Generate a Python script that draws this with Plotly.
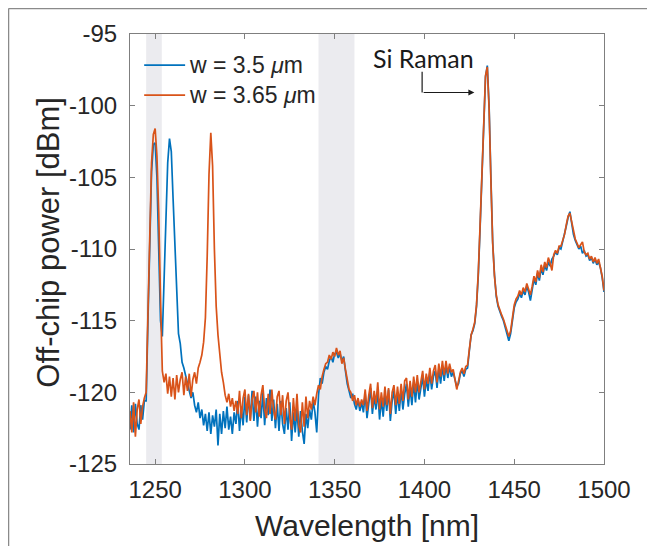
import plotly.graph_objects as go

# wavelength grid: 1 nm steps from 1236 nm to 1500 nm
WL_START = 1236
WL_STEP = 1

# off-chip power [dBm], w = 3.5 um
power_w350 = [
    -122.6, -120.9, -122.8, -120.8, -122.2, -122.6, -120.9, -121.9, -120.6, -120.6,
    -115.0, -109.0, -104.6, -102.7, -102.6, -105.0, -110.0, -115.0, -116.1, -112.5,
    -108.0, -104.0, -102.3, -103.2, -106.5, -110.0, -113.8, -115.9, -116.6, -117.9,
    -118.3, -118.9, -119.5, -119.9, -120.4, -120.0, -120.9, -121.4, -120.7, -121.8,
    -121.2, -122.3, -121.5, -122.7, -121.4, -122.9, -121.6, -122.4, -121.2, -123.7,
    -121.5, -122.9, -121.3, -122.5, -121.0, -122.6, -121.7, -122.9, -121.4, -122.2,
    -120.6, -122.7, -121.0, -122.3, -120.3, -122.1, -120.2, -121.9, -119.9, -122.0,
    -120.3, -122.4, -120.6, -121.8, -120.0, -122.3, -120.4, -121.6, -119.8, -122.0,
    -120.5, -122.5, -120.8, -122.7, -120.6, -122.2, -122.9, -121.1, -122.6, -120.7,
    -123.4, -121.4, -122.8, -121.1, -123.1, -121.3, -122.7, -123.6, -121.5, -122.5,
    -121.2, -121.9, -120.6, -121.4, -122.8, -120.2, -119.0, -119.4, -118.6, -118.2,
    -118.4, -117.8, -117.5, -117.9, -117.3, -117.2, -117.6, -117.3, -117.8, -117.5,
    -118.5, -119.4, -119.9, -120.4, -120.1, -120.8, -121.2, -120.5, -121.3, -120.7,
    -121.4, -120.1, -121.8, -120.6, -119.7, -121.5, -120.3, -121.2, -119.9, -121.9,
    -120.5, -121.7, -120.2, -121.3, -119.8, -122.0, -120.6, -119.9, -121.5, -120.1,
    -121.3, -119.8, -121.2, -120.1, -119.4, -121.0, -119.7, -120.9, -119.3, -120.7,
    -119.2, -120.5, -119.5, -118.9, -120.3, -119.1, -119.9, -118.6, -119.8, -118.9,
    -118.5, -119.7, -118.4, -119.4, -118.2, -119.2, -118.1, -119.0, -118.2, -118.9,
    -118.6, -119.1, -119.6, -119.4, -118.7, -118.5, -118.9, -118.4, -118.3, -117.1,
    -116.0, -115.7, -115.2, -114.0, -111.8, -108.5, -105.0, -101.0, -98.0, -97.2,
    -100.0, -105.0, -109.5, -111.8, -113.3, -114.0, -114.4, -114.7, -115.0, -115.5,
    -116.0, -116.4, -115.9, -114.8, -114.1, -113.7, -113.5, -113.1, -113.4, -112.9,
    -113.2, -112.6, -113.0, -113.6, -112.8, -112.1, -112.5, -111.7, -112.2, -111.3,
    -111.8, -111.1, -111.5, -110.9, -111.2, -110.7, -110.5, -110.2, -110.4, -109.9,
    -110.0, -109.5, -109.1, -108.4, -107.8, -107.4, -108.2, -109.0, -109.4, -109.7,
    -110.0, -109.8, -110.3, -110.1, -110.5, -110.4, -110.8, -110.6, -111.0, -110.7,
    -111.1, -110.9, -111.3, -112.0, -113.0,
]

# off-chip power [dBm], w = 3.65 um
power_w365 = [
    -121.3, -122.8, -120.7, -123.1, -121.2, -120.5, -122.2, -121.0, -120.4, -120.0,
    -114.5, -108.5, -104.0, -102.0, -101.6, -103.5, -107.5, -113.5, -118.5, -119.3,
    -118.7, -120.1, -118.9, -120.3, -119.0, -120.5, -118.8, -120.0, -119.1, -118.6,
    -120.2, -118.9, -119.9, -118.7, -120.3, -119.1, -118.6, -119.4, -118.3, -117.9,
    -117.4, -116.5, -114.8, -110.5, -104.8, -101.9, -104.2, -110.0, -114.0, -116.0,
    -117.3, -118.6, -119.3, -120.2, -120.7, -120.1, -121.0, -120.4, -121.3, -120.6,
    -121.5, -119.9, -121.8, -120.4, -119.8, -121.6, -120.1, -122.0, -120.5, -119.9,
    -121.4, -120.0, -121.7, -120.2, -119.5, -121.2, -121.8, -120.1, -121.5, -119.8,
    -121.3, -121.9, -120.3, -119.9, -121.6, -120.2, -122.2, -120.6, -120.0, -121.7,
    -122.6, -120.4, -122.0, -120.1, -122.3, -122.8, -120.7, -122.4, -120.3, -121.8,
    -120.6, -121.2, -120.3, -120.9, -120.1, -119.5, -119.8, -118.9, -118.4, -118.0,
    -117.9, -117.4, -117.7, -117.2, -117.5, -116.9, -117.4, -117.1, -118.0, -117.6,
    -118.4, -119.2, -119.8, -120.0, -120.6, -120.2, -120.9, -120.4, -121.0, -120.5,
    -120.9, -119.8, -121.3, -120.2, -119.4, -121.1, -119.9, -120.8, -119.3, -121.2,
    -120.0, -121.0, -119.6, -120.9, -119.7, -121.5, -120.0, -119.5, -120.9, -119.6,
    -120.8, -119.4, -120.6, -119.2, -119.0, -120.5, -119.2, -120.3, -118.9, -120.0,
    -118.8, -120.0, -119.1, -118.5, -119.8, -118.7, -119.4, -118.3, -119.4, -118.5,
    -118.1, -119.3, -118.0, -118.9, -117.8, -118.8, -117.8, -118.7, -118.0, -118.6,
    -118.4, -119.0, -119.8, -119.2, -118.6, -118.3, -118.7, -118.2, -118.1, -117.0,
    -116.0, -115.6, -115.1, -113.9, -111.6, -108.3, -104.8, -100.8, -97.9, -97.3,
    -100.2, -105.2, -109.6, -111.9, -113.2, -113.9, -114.3, -114.6, -114.9, -115.3,
    -115.8, -116.1, -115.7, -114.6, -113.9, -113.5, -113.3, -112.9, -113.2, -112.7,
    -113.0, -112.4, -112.8, -113.2, -112.6, -111.9, -112.3, -111.5, -112.0, -111.1,
    -111.6, -110.9, -111.3, -110.6, -111.0, -111.5, -110.4, -110.1, -110.3, -109.8,
    -109.8, -109.4, -109.0, -108.3, -107.7, -107.5, -108.1, -108.9, -109.3, -109.6,
    -109.9, -109.7, -109.5, -110.2, -110.4, -110.3, -110.7, -110.5, -110.9, -110.6,
    -111.0, -110.7, -111.2, -111.9, -112.9,
]

series_names = ["w = 3.5 <i>\u03bc</i>m", "w = 3.65 <i>\u03bc</i>m"]

# shaded wavelength bands [nm]
bands = [(1245.0, 1253.7), (1341.0, 1361.0)]

x_ticks = [1250, 1300, 1350, 1400, 1450, 1500]
y_ticks = [-125, -120, -115, -110, -105, -100, -95]
y_ticktext = ["-125", "-120", "-115", "-110", "-105", "-100", "-95"]

BLUE = "#0072BD"
ORANGE = "#D95319"
AXIS = "#7f7f7f"
TEXT = "#262626"
colors = [BLUE, ORANGE]

fig = go.Figure()
for ys, name, col in zip([power_w350, power_w365], series_names, colors):
    fig.add_trace(go.Scatter(x0=WL_START, dx=WL_STEP, y=ys, mode="lines", name=name,
                             showlegend=False, line=dict(color=col, width=1.7)))

for b0, b1 in bands:
    fig.add_shape(type="rect", xref="x", yref="paper", x0=b0, x1=b1, y0=0, y1=1,
                  fillcolor="#EBEBEF", line=dict(width=0), layer="below")

# legend drawn in the upper-left corner of the axes
legend_y = [-97.17, -99.27]
for ly, name, col in zip(legend_y, series_names, colors):
    fig.add_shape(type="line", xref="x", yref="y", x0=1243.9, x1=1266.7, y0=ly, y1=ly,
                  line=dict(color=col, width=1.7))
    fig.add_annotation(x=1268.0, y=ly, xref="x", yref="y", text=name, showarrow=False,
                       xanchor="left", yanchor="middle",
                       font=dict(family="Liberation Sans, Arial", size=23, color=TEXT))

# Si Raman label with bent arrow
fig.add_annotation(x=1399.4, y=-96.66, xref="x", yref="y", text="Si Raman",
                   showarrow=False, xanchor="center", yanchor="middle",
                   font=dict(family="Lato", size=25, color="#1a1a1a"))
fig.add_shape(type="line", xref="x", yref="y", x0=1398.7, x1=1398.7, y0=-97.64, y1=-99.08,
              line=dict(color="#1a1a1a", width=1.2))
fig.add_annotation(x=1427.8, y=-99.08, ax=1398.7, ay=-99.08, xref="x", yref="y",
                   axref="x", ayref="y", text="", showarrow=True,
                   arrowhead=2, arrowsize=1, arrowwidth=1.2, arrowcolor="#1a1a1a")

# axis titles
fig.add_annotation(x=0.5, y=-0.142, xref="paper", yref="paper", text="Wavelength [nm]",
                   xanchor="center", yanchor="middle", showarrow=False,
                   font=dict(size=30, color=TEXT))
fig.add_annotation(x=-0.171, y=0.517, xref="paper", yref="paper", text="Off-chip power [dBm]",
                   xanchor="center", yanchor="middle", textangle=-90, showarrow=False,
                   font=dict(size=31, color=TEXT))

# outer figure border (top and left)
fig.add_shape(type="line", xref="paper", yref="paper", x0=-0.2563, x1=1.11, y0=1.0593, y1=1.0593,
              line=dict(color="#8a8a8a", width=1.5))
fig.add_shape(type="line", xref="paper", yref="paper", x0=-0.2563, x1=-0.2563, y0=-0.2, y1=1.0593,
              line=dict(color="#8a8a8a", width=1.5))

axis_common = dict(showline=True, linecolor=AXIS, linewidth=1.2, mirror="ticks",
                   ticks="inside", ticklen=5, tickcolor=AXIS, tickwidth=1,
                   showgrid=False, zeroline=False,
                   tickfont=dict(family="Liberation Sans, Arial", size=24, color=TEXT))

fig.update_xaxes(range=[1236, 1500], tickvals=x_ticks, ticklabelstandoff=4, **axis_common)
fig.update_yaxes(range=[-125, -95], tickvals=y_ticks, ticktext=y_ticktext,
                 ticklabelstandoff=7, **axis_common)

# the page adds an 8 px body margin, so the figure is 8 px smaller on each axis
fig.update_layout(
    width=647, height=538,
    margin=dict(l=122, r=51, t=26, b=82),
    paper_bgcolor="white", plot_bgcolor="white",
    font=dict(family="Liberation Sans, Arial", color=TEXT),
    showlegend=False,
)

fig.write_html("out.html")
